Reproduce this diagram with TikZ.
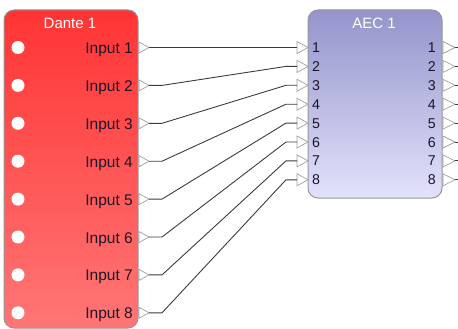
\documentclass[tikz,border=0pt]{standalone}
\usepackage{fontspec}
\setmainfont{Liberation Sans}
\usetikzlibrary{calc}
\definecolor{dtop}{RGB}{255,52,52}
\definecolor{dbot}{RGB}{255,118,118}
\definecolor{atop}{RGB}{148,148,204}
\definecolor{abot}{RGB}{226,226,252}
\definecolor{bordergray}{RGB}{150,150,150}
\definecolor{porttxt}{RGB}{30,20,40}
\definecolor{wirec}{RGB}{60,60,60}
\tikzset{
  blockbox/.style={draw=bordergray, line width=1pt, rounded corners=10pt},
  porttri/.style={draw=bordergray!90, fill=white, line width=0.7pt, line join=miter},
  wire/.style={draw=wirec, line width=0.9pt},
  titletxt/.style={text=white, font=\fontsize{15}{17}\selectfont, inner sep=0pt},
  labtxt/.style={text=porttxt, font=\fontsize{15.5}{17}\selectfont, inner sep=0pt},
  numtxt/.style={text=porttxt, font=\fontsize{14.2}{16}\selectfont, inner sep=0pt},
}
\begin{document}
\begin{tikzpicture}[x=1pt,y=-1pt]
\useasboundingbox (0,0) rectangle (458,329);
% Dante block
\shade[top color=dtop, bottom color=dbot, rounded corners=10pt] (4,10) rectangle (138,328);
\draw[blockbox] (4,10) rectangle (138,328);
\node[titletxt] (dtitle) at (70,23) {Dante 1};
% AEC block
\shade[top color=atop, bottom color=abot, rounded corners=10pt] (308,10) rectangle (442,198);
\draw[blockbox] (308,10) rectangle (442,198);
\node[titletxt] (atitle) at (374,23) {AEC 1};
% Dante ports
\foreach \i in {1,...,8}{
  \pgfmathsetmacro{\yy}{47.5+37.9*(\i-1)}
  \fill[white] (18,\yy) circle (6.5);
  \node[labtxt, anchor=base east] (dl\i) at (133,\yy+6) {Input \i};
  \draw[porttri] (139,\yy-5.5) -- (149,\yy) -- (139,\yy+5.5) -- cycle;
  \coordinate (d\i) at (149,\yy);
}
% AEC ports
\foreach \i in {1,...,8}{
  \pgfmathsetmacro{\yy}{47.5+18.9*(\i-1)}
  \draw[porttri] (297,\yy-6) -- (308,\yy) -- (297,\yy+6) -- cycle;
  \coordinate (a\i) at (297,\yy);
  \node[numtxt, anchor=base west] (al\i) at (312,\yy+5) {\i};
  \node[numtxt, anchor=base east] (ar\i) at (436,\yy+5) {\i};
  \draw[porttri] (443,\yy-6) -- (455,\yy) -- (443,\yy+6) -- cycle;
  \coordinate (o\i) at (455,\yy);
  \coordinate (oe\i) at (458,\yy);
  \draw[wire] (o\i) -- (oe\i);
}
% wires
\draw[wire] (d1) -- (a1);
\foreach \i in {2,...,8}{
  \draw[wire] (d\i) -- ++(13,0) -- ($(a\i)+(-11,0)$) -- (a\i);
}
\end{tikzpicture}
\end{document}
